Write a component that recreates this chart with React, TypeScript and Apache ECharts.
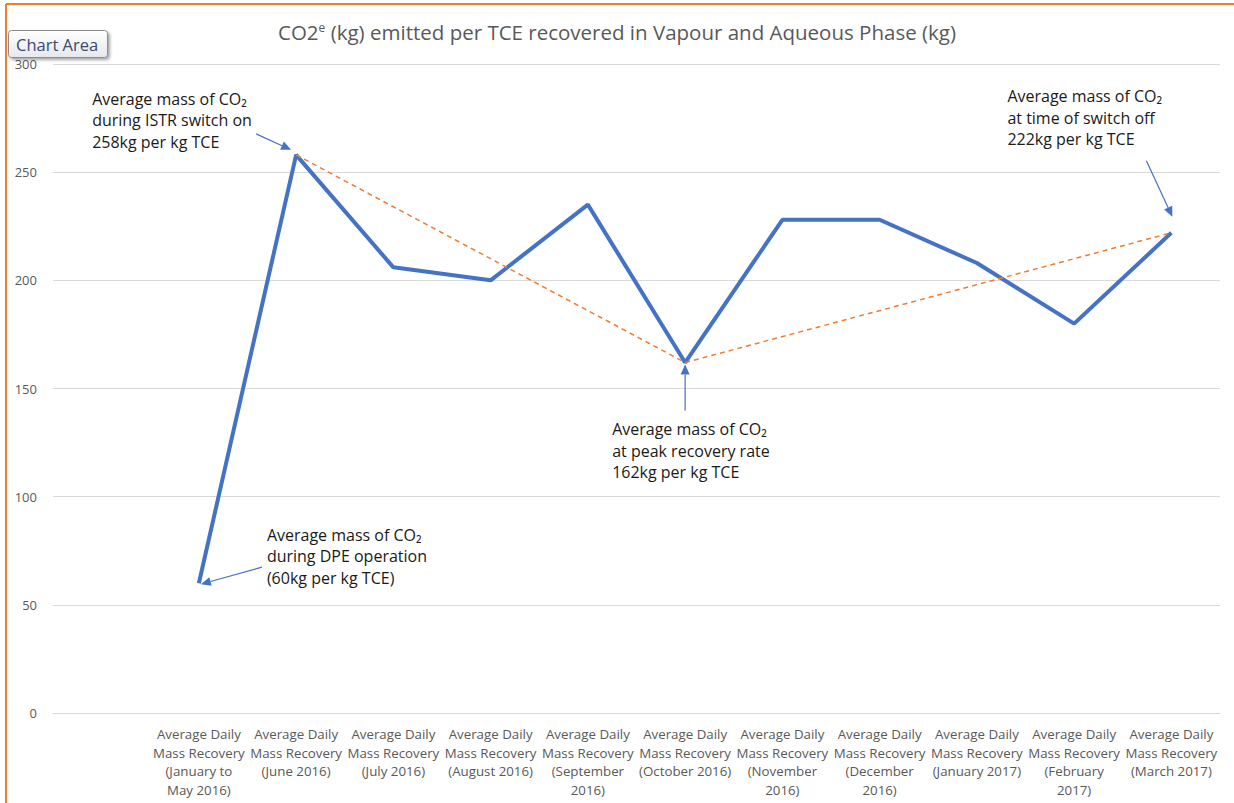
import React, { useEffect, useRef } from "react";
import * as echarts from "echarts";

const categories: string[] = [
  "",
  "Average Daily\nMass Recovery\n(January to\nMay 2016)",
  "Average Daily\nMass Recovery\n(June 2016)",
  "Average Daily\nMass Recovery\n(July 2016)",
  "Average Daily\nMass Recovery\n(August 2016)",
  "Average Daily\nMass Recovery\n(September\n2016)",
  "Average Daily\nMass Recovery\n(October 2016)",
  "Average Daily\nMass Recovery\n(November\n2016)",
  "Average Daily\nMass Recovery\n(December\n2016)",
  "Average Daily\nMass Recovery\n(January 2017)",
  "Average Daily\nMass Recovery\n(February\n2017)",
  "Average Daily\nMass Recovery\n(March 2017)",
];

const co2Values: (number | null)[] = [null, 60, 258, 206, 200, 235, 162, 228, 228, 208, 180, 222];
const trendValues: (number | null)[] = [null, null, 258, null, null, null, 162, null, null, null, null, 222];

const titleText = "CO2";
const titleRest = " (kg) emitted per TCE recovered in Vapour and Aqueous Phase (kg)";

const annotations = [
  { idx: 2, lines: ["Average mass of CO₂", "during ISTR switch on", "258kg per kg TCE"] },
  { idx: 1, lines: ["Average mass of CO₂", "during DPE operation", "(60kg per kg TCE)"] },
  { idx: 6, lines: ["Average mass of CO₂", "at peak recovery rate", "162kg per kg TCE"] },
  { idx: 11, lines: ["Average mass of CO₂", "at time of switch off", "222kg per kg TCE"] },
];

const FONT = "'Open Sans', Lato, sans-serif";
const BLUE = "#4472C4";
const ORANGE = "#ED7D31";

function arrow(x1: number, y1: number, x2: number, y2: number, color: string) {
  const ang = Math.atan2(y2 - y1, x2 - x1);
  const len = 10;
  const w = 4.5;
  const bx = x2 - len * Math.cos(ang);
  const by = y2 - len * Math.sin(ang);
  const px = -Math.sin(ang) * w;
  const py = Math.cos(ang) * w;
  return [
    { type: "line", shape: { x1, y1, x2: bx, y2: by }, style: { stroke: color, lineWidth: 1.2 }, z: 50 },
    {
      type: "polygon",
      shape: { points: [[x2, y2], [bx + px, by + py], [bx - px, by - py]] },
      style: { fill: color },
      z: 50,
    },
  ];
}

export default function App() {
  const ref = useRef<HTMLDivElement>(null);
  useEffect(() => {
    if (!ref.current) return;
    const chart = echarts.init(ref.current, null, { renderer: "svg" });
    chart.setOption({
      animation: false,
      backgroundColor: "#ffffff",
      title: {
        text: "{a|" + titleText + "}{s|e}{a|" + titleRest + "}",
        left: "center",
        top: 16,
        textStyle: {
          fontWeight: "normal",
          rich: {
            a: { fontSize: 20.5, color: "#595959", fontFamily: FONT, fontWeight: "normal" },
            s: { fontSize: 12, color: "#595959", fontFamily: FONT, fontWeight: "normal", verticalAlign: "top", padding: [0, 0, 9, 0] },
          },
        },
      },
      grid: { left: 53, right: 14, top: 64, bottom: 90, containLabel: false },
      xAxis: {
        type: "category",
        data: categories,
        boundaryGap: true,
        axisTick: { show: false },
        axisLine: { lineStyle: { color: "#d9d9d9", width: 1 } },
        axisLabel: {
          interval: 0,
          fontSize: 13.3,
          lineHeight: 18.5,
          color: "#595959",
          fontFamily: FONT,
          margin: 12,
          align: "center",
        },
      },
      yAxis: {
        type: "value",
        min: 0,
        max: 300,
        interval: 50,
        axisLine: { show: false },
        axisTick: { show: false },
        axisLabel: { fontSize: 13, color: "#595959", fontFamily: FONT, margin: 16 },
        splitLine: { lineStyle: { color: "#d9d9d9", width: 1 } },
      },
      series: [
        {
          name: "CO2",
          type: "line",
          data: co2Values,
          symbol: "none",
          lineStyle: { color: BLUE, width: 4 },
          z: 3,
        },
        {
          name: "Trend",
          type: "line",
          data: trendValues,
          connectNulls: true,
          symbol: "none",
          lineStyle: { color: ORANGE, width: 1.5, type: [5, 4] },
          z: 4,
        },
      ],
    });

    const pt = (i: number) => chart.convertToPixel({ seriesIndex: 0 }, [i, co2Values[i] as number]) as number[];
    const p258 = pt(2);
    const p60 = pt(1);
    const p162 = pt(6);
    const p222 = pt(11);

    const textOffsets = [
      { x: p258[0] - 204, y: p258[1] - 67, ax: [p258[0] - 40, p258[1] - 21], at: [p258[0] - 5, p258[1] - 5] },
      { x: p60[0] + 68, y: p60[1] - 59, ax: [p60[0] + 63, p60[1] - 16], at: [p60[0] + 2, p60[1] + 1] },
      { x: p162[0] - 73, y: p162[1] + 56, ax: [p162[0], p162[1] + 48], at: [p162[0], p162[1] + 2] },
      { x: p222[0] - 164, y: p222[1] - 147, ax: [p222[0] - 25, p222[1] - 72], at: [p222[0] + 1, p222[1] - 16] },
    ];

    const graphics: any[] = [];
    annotations.forEach((a, k) => {
      const o = textOffsets[k];
      graphics.push({
        type: "text",
        x: o.x,
        y: o.y,
        z: 60,
        style: {
          text: a.lines.join("\n"),
          font: "16px " + FONT,
          fill: "#1a1a1a",
          lineHeight: 21.5,
          textVerticalAlign: "top",
        },
      });
      graphics.push(...arrow(o.ax[0], o.ax[1], o.at[0], o.at[1], BLUE));
    });

    // border (orange, top and left)
    graphics.push({ type: "line", shape: { x1: 6, y1: 4, x2: 1234, y2: 4 }, style: { stroke: ORANGE, lineWidth: 2 }, z: 70 });
    graphics.push({ type: "line", shape: { x1: 6, y1: 4, x2: 6, y2: 803 }, style: { stroke: ORANGE, lineWidth: 2 }, z: 70 });

    // "Chart Area" tooltip
    graphics.push({
      type: "rect",
      shape: { x: 8.5, y: 30.5, width: 99, height: 27, r: 3 },
      style: {
        fill: new echarts.graphic.LinearGradient(0, 0, 0, 1, [
          { offset: 0, color: "#ffffff" },
          { offset: 1, color: "#e6e8ee" },
        ]),
        stroke: "#8c8c8c",
        lineWidth: 1,
        shadowBlur: 3,
        shadowOffsetX: 2,
        shadowOffsetY: 2,
        shadowColor: "rgba(0,0,0,0.35)",
      },
      z: 80,
    });
    graphics.push({
      type: "text",
      x: 16,
      y: 44,
      z: 81,
      style: { text: "Chart Area", font: "16.5px " + FONT, fill: "#3b4a6e", textVerticalAlign: "middle" },
    });

    chart.setOption({ graphic: graphics });

    return () => chart.dispose();
  }, []);
  return (
    <div
      ref={ref}
      style={{ position: "fixed", left: 0, top: 0, width: 1234, height: 803 }}
    />
  );
}
